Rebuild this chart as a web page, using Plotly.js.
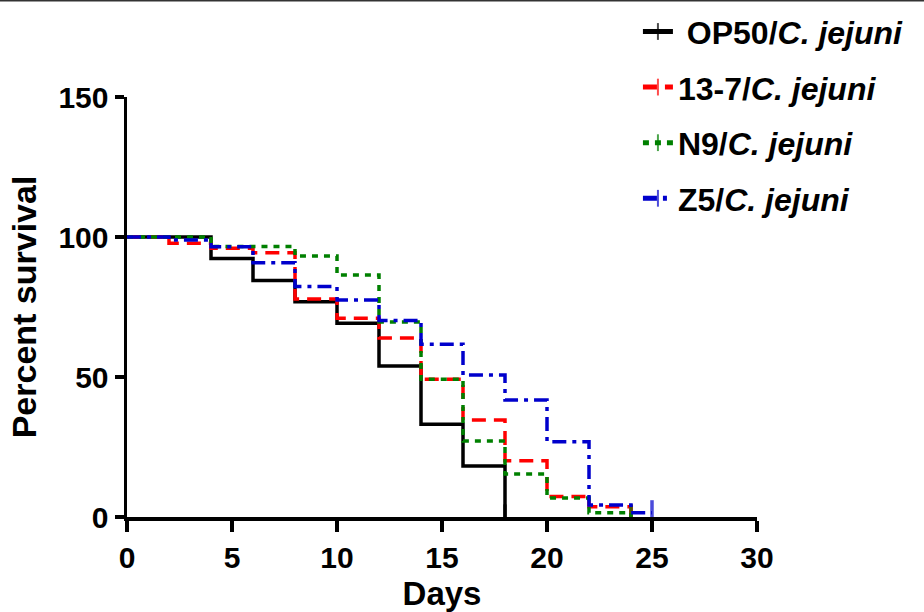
<!DOCTYPE html>
<html>
<head>
<meta charset="utf-8">
<script src="https://cdn.plot.ly/plotly-3.0.1.min.js"></script>
<style>
html,body{margin:0;padding:0;background:#fff;}
#chart{width:924px;height:612px;}
</style>
</head>
<body>
<div id="chart"></div>
<script>
// Days (x) and percent survival (y) for each Kaplan-Meier step curve
const op50Days = [0, 4, 6, 8, 10, 12, 14, 16, 18];
const op50Surv = [100, 92.3, 84.5, 76.9, 69.2, 53.9, 33.1, 18.2, 0];

const s137Days = [0, 2, 4, 6, 8, 10, 12, 14, 16, 18, 20, 22, 24];
const s137Surv = [100, 97.8, 96.0, 94.4, 77.9, 71.0, 63.9, 49.2, 34.6, 20.1, 7.3, 3.7, 0];

const n9Days = [0, 4, 8, 10, 12, 14, 16, 18, 20, 22, 24];
const n9Surv = [100, 96.6, 93.2, 86.4, 69.6, 49.2, 27.1, 15.4, 6.8, 1.5, 0];

const z5Days = [0, 2, 4, 6, 8, 10, 12, 14, 16, 18, 20, 22, 24, 25];
const z5Surv = [100, 98.9, 96.5, 90.8, 82.3, 77.5, 70.2, 61.7, 50.7, 41.8, 26.9, 4.3, 1.5, 1.5];

const seriesNames = [' OP50/<i>C. jejuni</i>', '13-7/<i>C. jejuni</i>', 'N9/<i>C. jejuni</i>', 'Z5/<i>C. jejuni</i>'];
const xTicks = [0, 5, 10, 15, 20, 25, 30];
const yTicks = [0, 50, 100, 150];

function endMarkerSizes(n) {
  const s = [];
  for (let i = 0; i < n; i++) s.push(i === n - 1 ? 18 : 0);
  return s;
}

function stepTrace(xs, ys, name, color, dash, group) {
  return {
    x: xs, y: ys, name: name, type: 'scatter', mode: 'lines+markers',
    legendgroup: group,
    line: {shape: 'hv', color: color, width: 3.5, dash: dash},
    marker: {symbol: 'line-ns', size: endMarkerSizes(xs.length), color: color,
             line: {color: color, width: 3.5}},
    cliponaxis: true,
    hoverinfo: 'x+y+name'
  };
}

const traces = [
  stepTrace(op50Days, op50Surv, seriesNames[0], '#000000', 'solid', 'g1'),
  stepTrace(s137Days, s137Surv, seriesNames[1], '#ff0000', '14px,8px', 'g2'),
  stepTrace(n9Days, n9Surv, seriesNames[2], '#008000', '6px,6px', 'g3'),
  stepTrace(z5Days, z5Surv, seriesNames[3], '#0000cc', '14px,6px,4px,6px', 'g4')
];

const F = 'Liberation Sans, Arial, Helvetica, sans-serif';

const layout = {
  width: 924, height: 612,
  margin: {l: 127, r: 167, t: 97, b: 95, autoexpand: false},
  paper_bgcolor: '#ffffff', plot_bgcolor: '#ffffff',
  showlegend: true,
  legend: {
    x: 0.811, y: 1.221, xanchor: 'left', yanchor: 'top',
    font: {family: F, size: 32, color: '#000', weight: 'bold'},
    traceorder: 'grouped', tracegroupgap: 11,
    itemsizing: 'constant', itemwidth: 30,
    bgcolor: 'rgba(0,0,0,0)'
  },
  xaxis: {
    range: [0, 30], tickvals: xTicks, ticktext: xTicks.map(String),
    showgrid: false, zeroline: false,
    showline: true, linecolor: '#000', linewidth: 3.5,
    ticks: 'outside', ticklen: 11, tickwidth: 3.5, tickcolor: '#000',
    tickfont: {family: F, size: 30, color: '#000', weight: 'bold'},
    title: {text: '<b>Days</b>', font: {family: F, size: 33, color: '#000'}, standoff: 20},
    fixedrange: true
  },
  yaxis: {
    range: [0, 150], tickvals: yTicks, ticktext: yTicks.map(String),
    showgrid: false, zeroline: false,
    showline: true, linecolor: '#000', linewidth: 3.5,
    ticks: 'outside', ticklen: 9, tickwidth: 3.5, tickcolor: '#000',
    tickfont: {family: F, size: 30, color: '#000', weight: 'bold'},
    title: {text: '<b>Percent survival</b>', font: {family: F, size: 34, color: '#000'}, standoff: 12},
    fixedrange: true
  },
  shapes: [{
    type: 'line', xref: 'paper', yref: 'paper',
    x0: -0.25, x1: 1.3, y0: 1.2295, y1: 1.2295,
    line: {color: '#333', width: 2}
  }]
};

Plotly.newPlot('chart', traces, layout, {displayModeBar: false, staticPlot: true});
</script>
</body>
</html>
